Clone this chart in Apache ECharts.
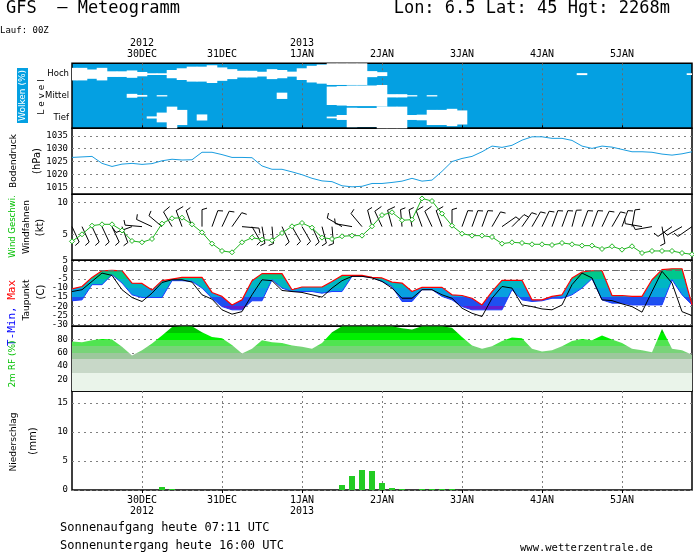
<!DOCTYPE html>
<html><head><meta charset="utf-8">
<script src="https://cdn.jsdelivr.net/npm/echarts@6/dist/echarts.min.js"></script>
<style>html,body{margin:0;padding:0;background:#fff}#c{width:694px;height:553px}</style>
</head><body><div id="c"></div>
<script>
// ---------- data ----------
const hours = [3,6,9,12,15,18,21,24,27,30,33,36,39,42,45,48,51,54,57,60,63,66,69,72,75,78,81,84,87,90,93,96,99,102,105,108,111,114,117,120,123,126,129,132,135,138,141,144,147,150,153,156,159,162,165,168,171,174,177,180,183,186,189];
const dayTicks = [24,48,72,96,120,144,168];
const dayLabels = ['30DEC','31DEC','1JAN','2JAN','3JAN','4JAN','5JAN'];
const yearLabels = ['2012','','2013','','','',''];
const levelNames = ['Tief','Mittel','Hoch'];
const levelTicks = [0.5,1.5,2.5];
const pressureTicks = [1015,1020,1025,1030,1035];
const windTicks = [5,10];
const tempTicks = [5,0,-5,-10,-15,-20,-25,-30];
const humTicks = [20,40,60,80];
const precipTicks = [0,5,10,15];

const cloudHigh = [58,58,43,58,26,26,34,20,8,8, 38,54,69,69,82,62,46,31,31,22, 46,38,23,54,77,88,100,100,100,100, 28,18,0,0,0,0,0,0,0,0, 0,0,0,0,0,0,0,0,0,0, 0,9,0,0,0,0,0,0,0,0, 0,0,8];
const cloudMid  = [0,0,0,0,0,0,18,8,0,6, 0,0,0,0,0,0,0,0,0,0, 0,29,0,0,0,0,85,90,95,95, 95,100,15,15,6,0,6,0,0,0, 0,0,0,0,0,0,0,0,0,0, 0,0,0,0,0,0,0,0,0,0, 0,0,0];
const cloudLow  = [0,0,0,0,0,0,0,0,10,45, 100,70,0,28,0,0,0,0,0,0, 0,0,0,0,0,0,8,23,90,88, 88,100,100,100,23,26,70,70,80,65, 0,0,0,0,0,0,0,0,0,0, 0,0,0,0,0,0,0,0,0,0, 0,0,0];

const pressure = [1026.6,1026.8,1027.0,1024.3,1023.1,1024.0,1024.3,1023.9,1024.2,1025.3,
 1025.9,1025.6,1025.7,1028.6,1028.6,1027.7,1026.6,1026.6,1026.5,1023.3,
 1022.0,1022.0,1021.0,1019.9,1018.5,1017.5,1017.2,1015.6,1015.2,1015.4,
 1016.5,1016.5,1016.9,1017.4,1018.5,1017.4,1017.8,1021.2,1025.0,1026.2,
 1027.0,1028.8,1031.0,1030.5,1031.3,1033.3,1034.6,1034.6,1034.0,1034.0,
 1033.2,1031.0,1030.1,1031.0,1030.6,1029.7,1028.8,1028.8,1028.6,1027.9,
 1027.5,1028.0,1028.8];

const windSpeed = [3.9,5.0,6.35,6.56,6.56,5.6,3.96,3.75,4.27,6.67,
 7.5,7.6,6.56,5.3,3.54,2.4,2.19,3.75,4.48,4.17,
 4.06,5.2,6.25,6.77,6.04,4.48,4.27,4.69,4.79,4.79,
 6.25,8.0,8.44,7.19,7.29,10.6,10.2,8.23,6.35,5.1,
 4.79,4.79,4.58,3.54,3.75,3.65,3.44,3.44,3.33,3.65,
 3.44,3.23,3.23,2.71,3.13,2.6,3.13,2.08,2.4,2.4,
 2.4,2.08,1.88];
const windDir = [155,155,155,155,155,160,250,275,295,310,
 330,340,340,0,20,25,35,95,150,170,
 175,155,150,150,155,165,175,300,280,320,
 345,335,345,355,350,340,335,340,0,20,
 20,20,30,55,45,35,30,25,20,20,
 15,20,20,25,30,20,10,280,260,170,
 235,240,235];

const tMax = [-10.4,-9.1,-4.1,-0.4,-0.2,-0.4,-7.2,-7.4,-11.1,-5.9,
 -5.0,-4.1,-4.1,-4.1,-12.4,-14.6,-19.3,-16.5,-5.9,-2.0,
 -2.0,-2.0,-10.9,-9.4,-9.4,-9.4,-6.3,-3.0,-3.0,-3.0,
 -4.1,-4.4,-6.7,-7.2,-11.9,-9.6,-9.6,-9.6,-13.7,-14.1,
 -15.6,-19.3,-11.9,-5.7,-5.7,-5.7,-16.5,-16.5,-14.6,-13.7,
 -4.4,-1.1,-0.4,-0.4,-14.1,-14.1,-14.6,-14.6,-5.4,0.2,
 0.7,0.7,-19.3];
const tMin = [-17.0,-16.5,-8.1,-8.1,-2.6,-7.2,-13.7,-15.2,-15.2,-15.2,
 -5.9,-5.9,-6.3,-10.0,-15.6,-20.2,-22.0,-22.0,-17.0,-17.0,
 -5.4,-10.0,-11.9,-11.9,-11.9,-12.8,-11.9,-11.9,-3.5,-3.5,
 -4.1,-6.3,-9.1,-17.4,-17.4,-10.9,-10.9,-14.6,-16.5,-20.2,
 -22.0,-22.0,-22.0,-22.0,-10.9,-16.5,-17.4,-17.0,-15.6,-15.6,
 -13.7,-10.0,-4.8,-16.5,-18.3,-18.3,-19.3,-19.3,-19.3,-19.3,
 -5.4,-13.7,-19.3];
const dewPoint = [-11.9,-10.9,-6.3,-1.7,-3.0,-10.9,-15.2,-17.4,-12.8,-6.9,
 -5.4,-5.4,-6.7,-13.7,-16.1,-22.0,-24.4,-23.0,-13.7,-5.4,
 -5.9,-11.3,-11.9,-12.4,-13.7,-15.0,-10.0,-5.9,-3.5,-3.5,
 -4.4,-6.3,-10.0,-15.6,-15.6,-10.9,-10.9,-13.7,-15.6,-21.1,
 -23.9,-25.7,-15.6,-9.1,-10.0,-19.3,-20.2,-21.5,-22.0,-19.3,
 -8.1,-1.7,-4.4,-16.5,-16.9,-18.7,-20.2,-23.3,-11.9,-0.7,
 -7.2,-23.0,-25.2];

const humidity = [77,76,79,81,80,69,56,64,74,86,
 99,100,100,91,84,82,72,59,66,79,
 76,75,71,69,66,75,91,100,100,100,
 100,100,100,97,95,100,100,100,98,84,
 71,66,70,78,83,82,66,62,64,70,
 78,81,79,86,80,75,66,64,61,96,
 66,64,57];

const precip = [0,0,0,0,0,0,0,0,0,0.52,
 0.17,0,0,0,0,0,0,0,0,0,
 0,0,0,0,0,0,0,0.86,2.41,3.45,
 3.28,1.21,0.34,0.17,0,0.17,0.17,0.17,0.17,0,
 0,0,0,0,0,0,0,0,0,0,
 0,0,0,0,0,0,0,0,0,0,
 0,0,0];

// ---------- styles ----------
const SKY = '#04a0e2';
const GRIDC = '#808080';
const MONO = '"DejaVu Sans Mono", monospace';
const SANS = '"DejaVu Sans", sans-serif';
const tempBounds = [0,-5,-10,-15,-20,-25];
const tempColors = ['#00c070','#00c88c','#00b6c4','#08a0e0','#1e50f0','#6020d0','#7a10c8'];
const humPieces = [
  {lt:30, color:'#eaf4ea'}, {gte:30, lt:50, color:'#c8d8c8'}, {gte:50, lt:60, color:'#9cc89c'},
  {gte:60, lt:70, color:'#78d478'}, {gte:70, lt:80, color:'#50e450'}, {gte:80, lt:90, color:'#00f000'}, {gte:90, color:'#00c400'}
];
const BARB_ANCHOR = 6.2, BARB_LEN = 17;

const pair = a => hours.map((h, i) => [h, a[i]]);
const cloudData = [];
[cloudLow, cloudMid, cloudHigh].forEach((arr, lv) => arr.forEach((c, i) => { if (c > 0) cloudData.push([hours[i], lv, c]); }));
const barbData = hours.map((h, i) => [h, windSpeed[i], windDir[i]]);
const precipData = pair(precip).filter(d => d[1] > 0);

const panels = [
  {top:63.3, height:65},
  {top:128.3, height:66},
  {top:194.3, height:66},
  {top:260.3, height:66},
  {top:326.3, height:64.7},
  {top:391, height:99}
];
const grid = panels.map((p, i) => ({left:72, right:2, top:p.top, height:p.height, show:true,
  backgroundColor: i === 0 ? SKY : 'transparent', borderColor:'#000', borderWidth:1.5}));

const dayFmtTop = v => { const k = dayTicks.indexOf(v); return k < 0 ? '' : (yearLabels[k] ? yearLabels[k] + '\n' : '') + dayLabels[k]; };
const dayFmtBot = v => { const k = dayTicks.indexOf(v); return k < 0 ? '' : dayLabels[k] + (yearLabels[k] ? '\n' + yearLabels[k] : ''); };

const xAxis = panels.map((p, i) => {
  if (i === 0 || i === 5) {
    return {gridIndex:i, type:'value', min:3, max:189, position: i === 0 ? 'top' : 'bottom',
      axisLine:{show:false},
      axisTick:{show:true, customValues:dayTicks, length:3, inside:false, lineStyle:{color:'#000'}},
      axisLabel:{customValues:dayTicks, formatter: i === 0 ? dayFmtTop : dayFmtBot, fontFamily:MONO, fontSize:10, color:'#000', lineHeight:11, margin: i === 0 ? 3 : 5},
      splitLine:{show:true, lineStyle:{color: i === 0 ? '#6a6a6a' : GRIDC, type:[2,3], width:1}}};
  }
  return {gridIndex:i, type:'value', min:3, max:189, show:false};
});

const yLab = {fontFamily:MONO, fontSize:9, color:'#000', margin:4};
const mkY = (i, min, max, ticks, fmt) => ({gridIndex:i, type:'value', min, max,
  axisLine:{show:false}, axisTick:{show:false, customValues:ticks},
  axisLabel:Object.assign({customValues:ticks, formatter: fmt || (v => String(v))}, yLab),
  splitLine:{show: i !== 0, lineStyle:{color:GRIDC, type:[2,4], width:1}}});
const yAxis = [
  mkY(0, 0, 3, levelTicks, v => levelNames[Math.floor(v)]),
  mkY(1, 1012.3, 1037.9, pressureTicks),
  mkY(2, 0.94, 11.25, windTicks),
  mkY(3, -31.1, 5.36, tempTicks),
  mkY(4, 2.5, 100, humTicks),
  mkY(5, 0, 17.07, precipTicks)
];
yAxis[0].axisLabel.fontFamily = SANS; yAxis[0].axisLabel.fontSize = 8.5; yAxis[0].axisLabel.margin = 3;

function renderCloud(params, api) {
  const t = api.value(0), lv = api.value(1), c = api.value(2);
  const p = api.coord([t, lv + 0.5]);
  const w = api.size([3, 0])[0] + 0.6;
  const h = api.size([0, 1])[1] * c / 100;
  const cs = params.coordSys;
  const r = echarts.graphic.clipRectByRect({x:p[0]-w/2, y:p[1]-h/2, width:w, height:h}, {x:cs.x, y:cs.y, width:cs.width, height:cs.height});
  return r && {type:'rect', shape:r, style:{fill:'#fff'}};
}
function renderBarb(params, api) {
  const t = api.value(0), spd = api.value(1), dir = api.value(2);
  const p = api.coord([t, BARB_ANCHOR]);
  const a = dir * Math.PI / 180;
  const ux = Math.sin(a), uy = -Math.cos(a);
  const tip = [p[0] + ux * BARB_LEN, p[1] + uy * BARB_LEN];
  const fl = spd >= 7.5 ? 8 : 5;
  const fe = [tip[0] - uy * fl + ux * 1.5, tip[1] + ux * fl + uy * 1.5];
  return {type:'group', children:[
    {type:'line', shape:{x1:p[0], y1:p[1], x2:tip[0], y2:tip[1]}, style:{stroke:'#000', lineWidth:1}},
    {type:'line', shape:{x1:tip[0], y1:tip[1], x2:fe[0], y2:fe[1]}, style:{stroke:'#000', lineWidth:1}}
  ]};
}
// band between T-min and T-max, coloured by absolute temperature
function renderBand(params, api) {
  if (params.dataIndex !== 0) return null;
  const pts = [];
  for (let i = 0; i < hours.length; i++) pts.push(api.coord([hours[i], tMax[i]]));
  for (let i = hours.length - 1; i >= 0; i--) pts.push(api.coord([hours[i], tMin[i]]));
  const cs = params.coordSys;
  const y0 = cs.y, y1 = cs.y + cs.height;
  const stops = [{offset:0, color:tempColors[0]}];
  tempBounds.forEach((b, k) => {
    const o = Math.min(1, Math.max(0, (api.coord([hours[0], b])[1] - y0) / (y1 - y0)));
    stops.push({offset:o, color:tempColors[k]});
    stops.push({offset:o, color:tempColors[k + 1]});
  });
  stops.push({offset:1, color:tempColors[tempColors.length - 1]});
  return {type:'polygon', shape:{points:pts},
    style:{fill:new echarts.graphic.LinearGradient(0, y0, 0, y1, stops, true), stroke:null}};
}

const series = [
  {type:'custom', xAxisIndex:0, yAxisIndex:0, renderItem:renderCloud, data:cloudData, encode:{x:0, y:1}, silent:true},
  {type:'line', xAxisIndex:1, yAxisIndex:1, data:pair(pressure), showSymbol:false, lineStyle:{color:'#1a9de0', width:1}},
  {type:'custom', xAxisIndex:2, yAxisIndex:2, renderItem:renderBarb, data:barbData, encode:{x:0, y:1}, silent:true},
  {type:'line', xAxisIndex:2, yAxisIndex:2, data:pair(windSpeed), symbol:'diamond', symbolSize:5,
    lineStyle:{color:'#1fb51f', width:1}, itemStyle:{color:'#ffffff', borderColor:'#1fb51f', borderWidth:1}},
  {type:'custom', xAxisIndex:3, yAxisIndex:3, renderItem:renderBand, data:pair(tMax), encode:{x:0, y:1}, silent:true},
  {type:'line', xAxisIndex:3, yAxisIndex:3, data:pair(tMin), showSymbol:false, lineStyle:{color:'#1a3cff', width:1}},
  {type:'line', xAxisIndex:3, yAxisIndex:3, data:pair(tMax), showSymbol:false, lineStyle:{color:'#ff0000', width:1.2}},
  {type:'line', xAxisIndex:3, yAxisIndex:3, data:pair(dewPoint), showSymbol:false, lineStyle:{color:'#000', width:1},
    markLine:{silent:true, symbol:'none', label:{show:false}, lineStyle:{color:'#6a6a6a', type:[6,3], width:1}, data:[{yAxis:0}]}},
  {type:'line', xAxisIndex:4, yAxisIndex:4, data:pair(humidity), showSymbol:false, lineStyle:{width:0}, areaStyle:{opacity:1}},
  {type:'bar', xAxisIndex:5, yAxisIndex:5, data:precipData, barWidth:6, itemStyle:{color:'#22cc22'}}
];

const txt = (x, y, text, font, extra) => Object.assign({type:'text', x, y, silent:true,
  style:Object.assign({text, font, fill:'#000', align:'left', verticalAlign:'middle'}, (extra && extra.style) || {})},
  extra && extra.rotation ? {rotation:extra.rotation} : {});
const rot = Math.PI / 2;
const graphic = [
  txt(6, 9, 'GFS  — Meteogramm', '17px ' + MONO),
  txt(670, 9, 'Lon: 6.5 Lat: 45 Hgt: 2268m', '17px ' + MONO, {style:{align:'right'}}),
  txt(0, 31, 'Lauf: 00Z', '9px ' + MONO),
  txt(22.5, 95.5, 'Wolken (%)', '9px ' + SANS, {rotation:rot, style:{align:'center', fill:'#fff', backgroundColor:SKY, padding:[1,2]}}),
  txt(42, 97, 'L e v e l', '9px ' + SANS, {rotation:rot, style:{align:'center'}}),
  txt(13.5, 161, 'Bodendruck', '9px ' + SANS, {rotation:rot, style:{align:'center'}}),
  txt(37.5, 161, '(hPa)', '10px ' + SANS, {rotation:rot, style:{align:'center'}}),
  txt(12.5, 226.5, 'Wind Geschwi.', '8.5px ' + SANS, {rotation:rot, style:{align:'center', fill:'#00c000'}}),
  txt(26.5, 227, 'Windfahnen', '9px ' + SANS, {rotation:rot, style:{align:'center'}}),
  txt(40, 227.5, '(kt)', '10px ' + SANS, {rotation:rot, style:{align:'center'}}),
  {type:'text', x:12.5, y:313, rotation:rot, silent:true, style:{text:'{b|T-Min,} {r|Max}', font:'11px ' + MONO, align:'center', verticalAlign:'middle',
    rich:{b:{fill:'#0000ff', font:'11px ' + MONO}, r:{fill:'#ff0000', font:'11px ' + MONO}}}},
  txt(26.5, 300, 'Taupunkt', '9px ' + SANS, {rotation:rot, style:{align:'center'}}),
  txt(41, 292, '(C)', '10px ' + SANS, {rotation:rot, style:{align:'center'}}),
  txt(12.5, 364, '2m RF (%)', '9px ' + SANS, {rotation:rot, style:{align:'center', fill:'#00c000'}}),
  txt(13.5, 442, 'Niederschlag', '9px ' + SANS, {rotation:rot, style:{align:'center'}}),
  txt(33, 441, '(mm)', '10px ' + SANS, {rotation:rot, style:{align:'center'}}),
  txt(60, 528, 'Sonnenaufgang heute 07:11 UTC', '12px ' + MONO),
  txt(60, 546, 'Sonnenuntergang heute 16:00 UTC', '12px ' + MONO),
  txt(520, 548.5, 'www.wetterzentrale.de', '10.5px ' + MONO)
];

const chart = echarts.init(document.getElementById('c'), null, {renderer:'canvas'});
chart.setOption({
  animation:false,
  backgroundColor:'#ffffff',
  grid, xAxis, yAxis, series, graphic,
  visualMap:[
    {type:'piecewise', show:false, seriesIndex:8, dimension:1, pieces:humPieces}
  ]
});
</script></body></html>
